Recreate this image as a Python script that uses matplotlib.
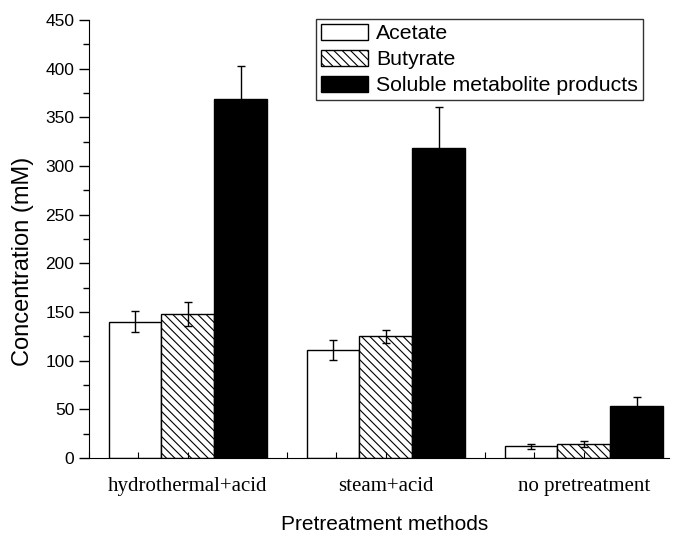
import numpy as np
import matplotlib
matplotlib.use('Agg')
import matplotlib.pyplot as plt
from matplotlib.ticker import MultipleLocator, FixedLocator

# datos
methods = ['hydrothermal+acid', 'steam+acid', 'no pretreatment']
series = ['Acetate', 'Butyrate', 'Soluble metabolite products']
acetate = [140, 111, 12]
acetate_err = [11, 10, 2.5]
butyrate = [148, 125, 14.5]
butyrate_err = [12, 7, 3]
smp = [369, 319, 53]
smp_err = [34, 42, 10]

plt.rcParams['font.family'] = ['Liberation Sans', 'DejaVu Sans']
plt.rcParams['hatch.linewidth'] = 0.8

fig = plt.figure(figsize=(6.73, 5.43), dpi=100)
ax = fig.add_axes([0.132, 0.1565, 0.862, 0.8065])

x = np.arange(1, len(methods) + 1)
w = 0.267
vals = [acetate, butyrate, smp]
errs = [acetate_err, butyrate_err, smp_err]
faces = ['white', 'white', 'black']
hatches = ['', '\\\\\\\\', '']
for i in range(3):
  ax.bar(x + (i - 1) * w, vals[i], w, color=faces[i], edgecolor='black',
         linewidth=1.0, hatch=hatches[i], label=series[i],
         yerr=errs[i], capsize=3.2,
         error_kw=dict(ecolor='black', elinewidth=1.0, capthick=1.0))

ax.set_ylim(0, 450)
ax.set_xlim(0.5, 3.43)
ax.yaxis.set_major_locator(MultipleLocator(50))
ax.yaxis.set_minor_locator(MultipleLocator(25))
ax.xaxis.set_major_locator(FixedLocator(x))
ax.xaxis.set_minor_locator(MultipleLocator(0.25))
ax.set_xticklabels(methods, family='Liberation Serif', fontsize=15)

ax.spines['top'].set_visible(False)
ax.spines['right'].set_visible(False)
ax.tick_params(axis='y', which='major', direction='out', length=7, width=1, labelsize=12.5)
ax.tick_params(axis='y', which='minor', direction='out', length=4, width=1)
ax.tick_params(axis='x', which='both', direction='in', length=4, width=0.8, pad=14)

ax.set_ylabel('Concentration (mM)', fontsize=17)
ax.yaxis.set_label_coords(-0.095, 0.45)
ax.set_xlabel('Pretreatment methods', fontsize=15)
ax.xaxis.set_label_coords(0.51, -0.13)

leg = ax.legend(loc='upper right', bbox_to_anchor=(0.955, 1.002), borderaxespad=0,
                fontsize=15.3, frameon=True, fancybox=False, handlelength=2.2,
                handleheight=0.8, labelspacing=0.3, handletextpad=0.4,
                borderpad=0.22)
leg.get_frame().set_edgecolor('black')
leg.get_frame().set_linewidth(1.0)

fig.savefig('out.png', dpi=100)
